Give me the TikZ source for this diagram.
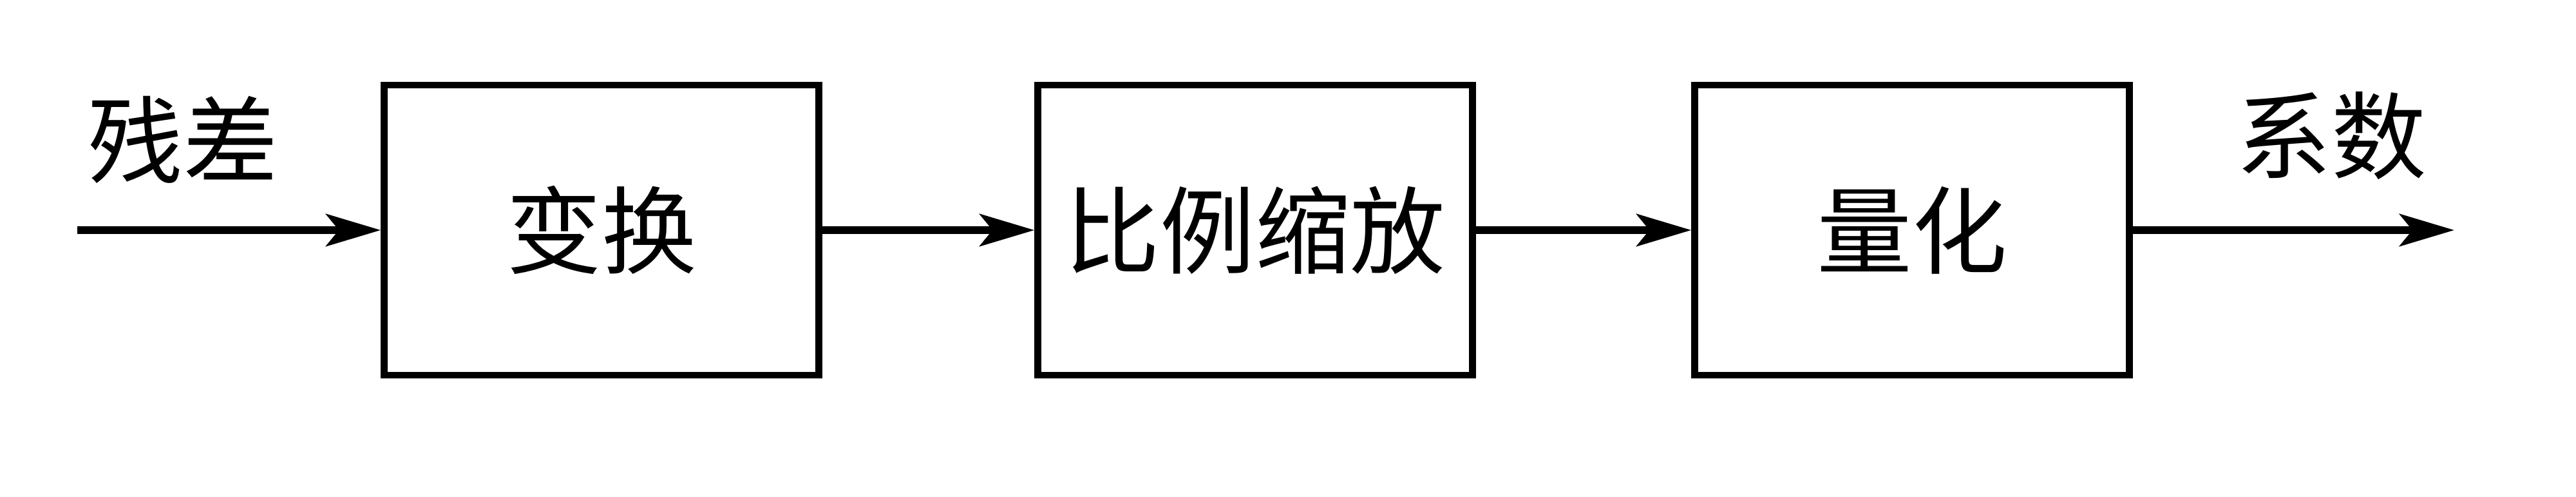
\documentclass[tikz,border=0pt]{standalone}
\usepackage{fontspec}
\newfontfamily\cjk{Noto Sans CJK SC}
\usetikzlibrary{arrows.meta, positioning}

\begin{document}
\begin{tikzpicture}[on grid, node distance = 10.15cm,
	block/.style = {draw, line width=3pt, minimum width=6.75cm, minimum height=4.5cm},
	label/.style = {font=\cjk\fontsize{42}{50}\selectfont},
	>={Stealth[length=0.85cm, width=0.5cm, inset=0.2cm]}]
		\useasboundingbox (0,0) rectangle (40,7.7);
		\node[block, label] (trans) at (9.34,4.13) {变换};
		\node[block, label, right = of trans] (scale) {比例缩放};
		\node[block, label, right = 10.2cm of scale] (quant) {量化};
		\coordinate[left = 8.14cm of trans] (in);
		\coordinate[right = 8.42cm of quant] (out);
		\node[label] (res) at (2.84,5.53) {残差};
		\node[label] (coef) at (36.2,5.59) {系数};
		
		\path[->, line width=3.2pt] (in) edge (trans)
		(trans) edge (scale)
		(scale) edge (quant)
		(quant) edge (out);
		\end{tikzpicture}
\end{document}
